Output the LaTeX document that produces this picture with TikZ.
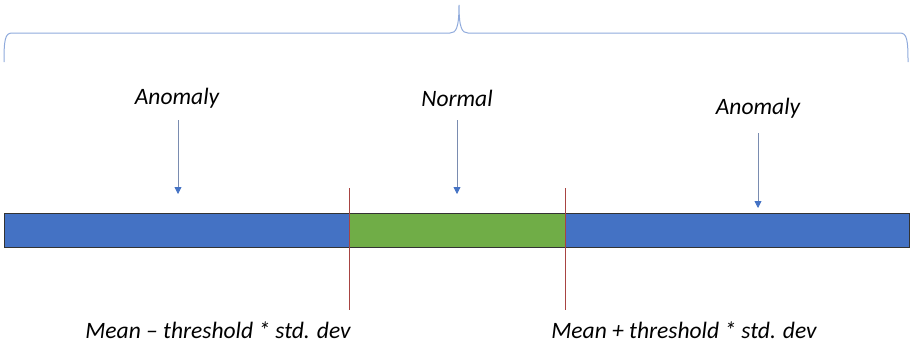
\documentclass[tikz,border=0pt]{standalone}
\usepackage{fontspec}
\setmainfont{Carlito}
\usetikzlibrary{arrows.meta}
\definecolor{barblue}{HTML}{4472C4}
\definecolor{bargreen}{HTML}{70AD47}
\definecolor{bracecol}{HTML}{8FAADC}
\definecolor{arrowcol}{HTML}{7A8CB0}
\definecolor{limitcol}{HTML}{A84442}
\tikzset{
  lbl/.style={font=\itshape\fontsize{23.5}{28}\selectfont, inner sep=0pt},
  seg/.style={draw=black!80, line width=0.8pt},
  pointer/.style={draw=arrowcol, line width=0.8pt, -{Triangle[length=7pt,width=7pt,color=barblue]}},
  limit/.style={draw=limitcol, line width=0.8pt},
}
\begin{document}
\begin{tikzpicture}[x=1pt,y=-1pt]
\useasboundingbox (0,0) rectangle (912,349);
% overall range brace
\draw[bracecol, line width=1pt]
  (4,62) .. controls (4,40) and (5,33) .. (12,33) -- (450,33)
  .. controls (456,33) and (459,28) .. (459,5)
  .. controls (459,28) and (462,33) .. (468,33) -- (900,33)
  .. controls (907,33) and (908,40) .. (908,62);
% value bar
\node[seg, fill=barblue, minimum width=345pt, minimum height=34pt, anchor=north west, inner sep=0pt] (low) at (4,213) {};
\node[seg, fill=bargreen, minimum width=216pt, minimum height=34pt, anchor=north west, inner sep=0pt] (mid) at (349,213) {};
\node[seg, fill=barblue, minimum width=344pt, minimum height=34pt, anchor=north west, inner sep=0pt] (high) at (565,213) {};
% threshold markers
\coordinate (l1) at (349,188); \coordinate (l2) at (349,310);
\coordinate (r1) at (565,188); \coordinate (r2) at (565,310);
\draw[limit] (l1) -- (l2);
\draw[limit] (r1) -- (r2);
% region labels
\node[lbl] (a1) at (177,98) {Anomaly};
\node[lbl] (n) at (457,98) {Normal};
\node[lbl] (a2) at (758,108) {Anomaly};
\coordinate (p1) at (178,194);
\coordinate (p2) at (457,194);
\coordinate (p3) at (758,208);
\draw[pointer] (178,120) -- (p1);
\draw[pointer] (457,120) -- (p2);
\draw[pointer] (758,133) -- (p3);
% threshold labels
\node[lbl] (ml) at (218,330) {Mean – threshold * std. dev};
\node[lbl] (mh) at (684,330) {Mean + threshold * std. dev};
\end{tikzpicture}
\end{document}
